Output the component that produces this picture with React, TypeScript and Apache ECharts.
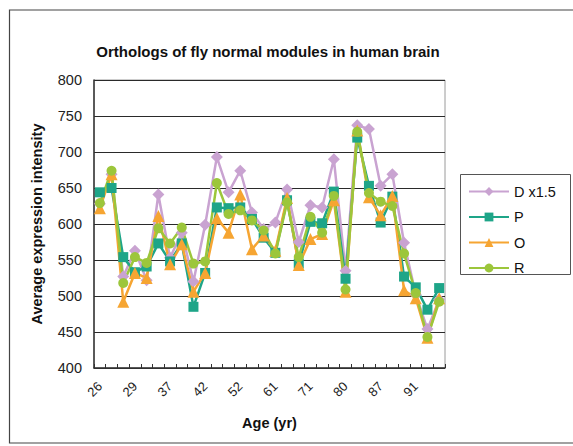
import React, { useEffect, useRef } from "react";
import * as echarts from "echarts";

const ages = ["26", "27", "28", "29", "31", "34", "37", "38", "40", "42", "45", "49", "52", "55", "58", "61", "64", "68", "71", "74", "77", "80", "82", "85", "87", "88", "89", "91", "93", "95"];
const seriesD = [628, 669, 527, 563, 522, 641, 553, 588, 520, 599, 693, 644, 674, 616, 593, 602, 648, 575, 626, 623, 690, 535, 737, 732, 653, 669, 574, 502, 454, 495];
const seriesP = [644, 650, 554, 533, 541, 573, 548, 573, 485, 532, 623, 622, 623, 607, 581, 560, 633, 545, 603, 601, 645, 524, 720, 653, 602, 638, 527, 512, 481, 511];
const seriesO = [622, 669, 492, 532, 525, 611, 544, 572, 506, 532, 608, 588, 641, 565, 584, 563, 636, 543, 579, 586, 633, 506, 730, 637, 612, 639, 508, 497, 442, 497];
const seriesR = [629, 674, 518, 554, 546, 594, 573, 595, 545, 548, 657, 614, 619, 605, 591, 559, 630, 554, 610, 588, 639, 509, 728, 643, 631, 625, 559, 504, 443, 492];
const seriesNames = ["D x1.5", "P", "O", "R"];
const yTicks = { min: 400, max: 800, interval: 50 };

const FONT = "Liberation Sans, Arial, sans-serif";

export default function App() {
  const ref = useRef<HTMLDivElement>(null);
  useEffect(() => {
    if (!ref.current) return;
    const chart = echarts.init(ref.current, undefined, { renderer: "svg" });
    const mk = (name: string, data: number[], color: string, symbol: string, size: number) => ({
      name,
      type: "line",
      data,
      symbol,
      symbolSize: size,
      showAllSymbol: true,
      lineStyle: { color, width: 2.5 },
      itemStyle: { color },
      z: 3,
    });
    chart.setOption({
      animation: false,
      textStyle: { fontFamily: FONT },
      grid: { left: 94, top: 80, right: 128, bottom: 78, show: true, borderColor: "#9a9a9a", borderWidth: 1 },
      xAxis: {
        type: "category",
        data: ages,
        boundaryGap: true,
        axisLine: { lineStyle: { color: "#333", width: 1.5 } },
        axisTick: { show: true, inside: true, length: 4, interval: 0, lineStyle: { color: "#333" } },
        axisLabel: { interval: 2, rotate: 45, fontSize: 13, color: "#222", margin: 16, fontFamily: FONT },
        splitLine: { show: false },
        name: "Age (yr)",
        nameLocation: "middle",
        nameGap: 47,
        nameTextStyle: { fontSize: 14.5, fontWeight: "bold", color: "#111", fontFamily: FONT },
      },
      yAxis: {
        type: "value",
        min: yTicks.min,
        max: yTicks.max,
        interval: yTicks.interval,
        axisLine: { show: true, lineStyle: { color: "#333", width: 1.5 } },
        axisTick: { show: false },
        axisLabel: { fontSize: 14.5, color: "#222", margin: 12, fontFamily: FONT },
        splitLine: { show: true, lineStyle: { color: "#2a2a2a", width: 1 } },
        name: "Average expression intensity",
        nameLocation: "middle",
        nameGap: 50,
        nameTextStyle: { fontSize: 14.5, fontWeight: "bold", color: "#111", fontFamily: FONT },
      },
      legend: {
        orient: "vertical",
        left: 463,
        top: 179,
        itemWidth: 40,
        itemHeight: 11,
        itemGap: 10.5,
        textStyle: { fontSize: 14.5, color: "#111", fontFamily: FONT, lineHeight: 15 },
        data: seriesNames,
      },
      graphic: [
        {
          type: "rect",
          shape: { x: 9.5, y: 10, width: 600, height: 433 },
          style: { fill: "none", stroke: "#444", lineWidth: 1.2 },
          silent: true,
          z: -1,
        },
        {
          type: "rect",
          shape: { x: 460.5, y: 174.5, width: 110, height: 100 },
          style: { fill: "none", stroke: "#555", lineWidth: 1 },
          silent: true,
        },
        {
          type: "text",
          x: 268,
          y: 51,
          style: {
            text: "Orthologs of fly normal modules in human brain",
            fontSize: 15,
            fontWeight: "bold",
            fontFamily: FONT,
            fill: "#111",
            textAlign: "center",
            textVerticalAlign: "middle",
          },
        },
      ],
      series: [
        mk(seriesNames[0], seriesD, "#c9a3d1", "diamond", 12),
        mk(seriesNames[1], seriesP, "#1ea588", "rect", 10),
        mk(seriesNames[2], seriesO, "#f6a532", "triangle", 12),
        mk(seriesNames[3], seriesR, "#9cc63b", "circle", 10),
      ],
    });
    return () => chart.dispose();
  }, []);
  return <div ref={ref} style={{ position: "fixed", left: 0, top: 0, width: 573, height: 446, background: "#fff" }} />;
}
